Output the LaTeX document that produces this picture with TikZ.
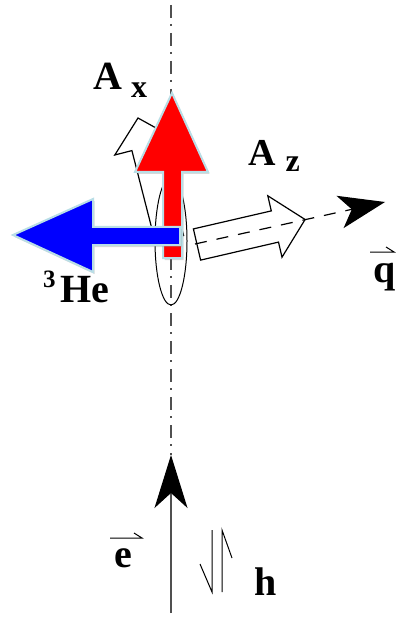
\documentclass[tikz,border=0pt]{standalone}
\usepackage{fontspec}
\setmainfont{Liberation Serif}
\usetikzlibrary{arrows.meta,shadows}
\definecolor{axisgray}{RGB}{80,80,80}
\definecolor{spinedge}{RGB}{185,222,230}
\begin{document}
\begin{tikzpicture}[x=1pt,y=-1pt,
  axisline/.style={draw=axisgray, line width=1.2pt, dash pattern=on 13pt off 6pt on 2pt off 7pt},
  beamline/.style={draw=axisgray, line width=1.2pt},
  hollow/.style={draw=black, fill=white, line width=1.2pt, line join=miter},
  spin/.style={draw=spinedge, line width=2pt, line join=miter,
    drop shadow={shadow xshift=1.5pt, shadow yshift=-2pt, opacity=0.3, fill=gray}},
  lbl/.style={font=\bfseries\fontsize{40}{40}\selectfont, inner sep=0pt, anchor=base west},
  thin/.style={draw=black, line width=1pt}
]
\useasboundingbox (0,0) rectangle (396,617);

% vertical axis and electron beam
\coordinate (top) at (171,5);
\coordinate (etip) at (171,455);
\coordinate (ebot) at (171,613);
\draw[axisline] (top) -- (etip);
\draw[beamline, -{Stealth[length=53pt, width=33pt, inset=15pt, color=black]}] (ebot) -- (etip);

% hollow A_x arrow (tilted)
\draw[hollow] (138,118) -- (176.2,139.2) -- (159.1,143.6) -- (183.6,235.5)
  -- (155.4,242.5) -- (131.9,150.6) -- (114.8,155) -- cycle;

% target ellipse
\draw[thin] (171,241) ellipse [x radius=16, y radius=64];

% hollow A_z arrow
\draw[hollow] (193.4,228.9) -- (271.3,210.9) -- (267.8,195.8) -- (305.1,219.5)
  -- (282,257.2) -- (278.5,242.1) -- (200.6,260.1) -- cycle;

% momentum transfer q
\coordinate (qstart) at (195,244);
\coordinate (qtip) at (385,202);
\draw[black, line width=1.2pt, dash pattern=on 12pt off 10pt,
  -{Stealth[length=46pt, width=33pt, inset=12pt]}] (qstart) -- (qtip);

% red spin arrow
\draw[spin, fill=red] (172,93) -- (208,172) -- (182,172) -- (182,258)
  -- (163,258) -- (163,172) -- (135,172) -- cycle;

% blue spin arrow
\draw[spin, fill=blue] (13,235) -- (93,199) -- (93,227) -- (180,227)
  -- (180,245) -- (93,245) -- (93,272) -- cycle;

% labels
\node[lbl] (ax) at (93,90) {A\hspace{9pt}\raisebox{-8pt}{\fontsize{32}{32}\selectfont x}};
\node[lbl] (az) at (248,166) {\fontsize{38}{38}\selectfont A\hspace{10pt}\raisebox{-6pt}{\fontsize{32}{32}\selectfont z}};
\node[lbl] (he) at (43,302) {\raisebox{15pt}{\fontsize{25}{25}\selectfont 3}\hspace{5pt}He};
\node[lbl] (e) at (114,567) {e};
\node[lbl] (h) at (254,595) {h};
\node[lbl] (q) at (373,282) {q};

% vector bars
\draw[thin] (110,538) -- (142,538) -- (134,533);
\draw[thin] (370,252) -- (394,252) -- (386,247);

% helicity
\draw[thin] (212,530) -- (212,592) -- (200,564);
\draw[thin] (222,592) -- (222,530) -- (232,558);
\end{tikzpicture}
\end{document}
